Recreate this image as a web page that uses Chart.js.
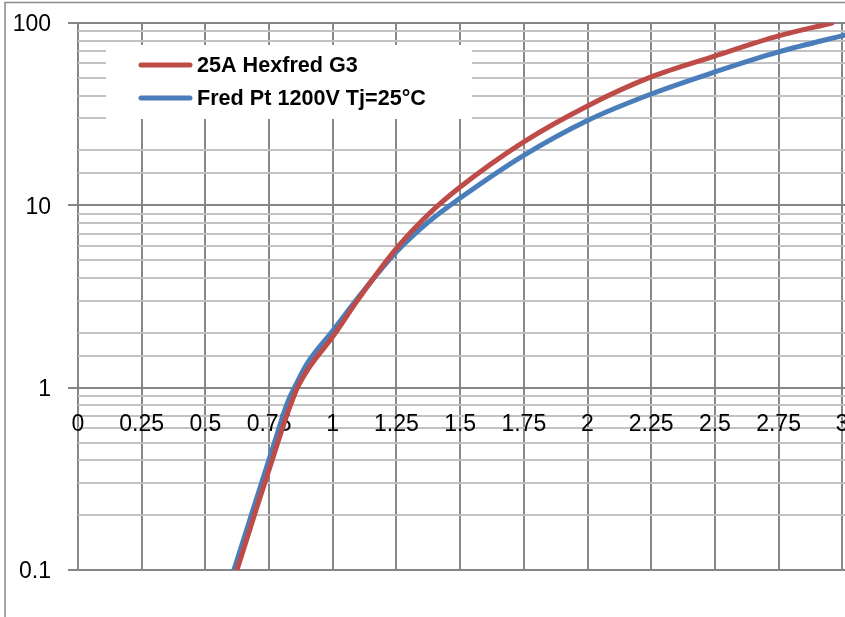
<!DOCTYPE html>
<html>
<head>
<meta charset="utf-8">
<script src="https://cdn.jsdelivr.net/npm/chart.js@4"></script>
<style>
html,body{margin:0;padding:0;overflow:hidden;background:#fff;width:845px;height:617px}
#wrap{width:870px;height:617px}
</style>
</head>
<body>
<div id="wrap"><canvas id="c" width="870" height="617"></canvas></div>
<script>
// ---- data ----
const seriesNames = ['25A Hexfred G3', 'Fred Pt 1200V Tj=25°C'];
const seriesColors = ['#be4b48', '#4a7ebb'];

const hexfredX = [0.624, 0.70, 0.78, 0.82, 0.86, 0.90, 1.00, 1.10, 1.25, 1.375, 1.50, 1.75, 2.00, 2.25, 2.50, 2.75, 2.96];
const hexfredY = [0.1, 0.216, 0.479, 0.708, 0.99, 1.245, 1.905, 3.05, 5.8, 8.9, 12.6, 22.3, 35.1, 50.6, 65.9, 84.9, 100];

const fredX = [0.612, 0.70, 0.78, 0.82, 0.86, 0.90, 1.00, 1.10, 1.25, 1.375, 1.50, 1.75, 2.00, 2.25, 2.50, 2.75, 3.03];
const fredY = [0.1, 0.244, 0.547, 0.813, 1.07, 1.36, 2.05, 3.12, 5.56, 8.1, 10.96, 18.8, 29.2, 40.8, 53.9, 69.4, 87.1];

const xTickLabels = ['0','0.25','0.5','0.75','1','1.25','1.5','1.75','2','2.25','2.5','2.75','3'];
const yTickValues = [0.1, 1, 10, 100];
const yTickLabels = ['0.1', '1', '10', '100'];

// ---- helpers ----
const toPoints = (xs, ys) => xs.map((x, i) => ({x: x, y: ys[i]}));
const isMajor = v => yTickValues.some(t => Math.abs(t - v) / t < 1e-6);
const FONT = 'Liberation Sans, Arial, sans-serif';

const legendPlugin = {
  id: 'innerLegend',
  beforeDatasetsDraw(chart) {
    const ctx = chart.ctx;
    ctx.save();
    ctx.fillStyle = '#ffffff';
    ctx.fillRect(106, 45, 366, 74);
    const rows = [65, 98];
    chart.data.datasets.forEach((ds, i) => {
      const y = rows[i];
      ctx.strokeStyle = ds.borderColor;
      ctx.lineWidth = 5;
      ctx.lineCap = 'round';
      ctx.beginPath();
      ctx.moveTo(141, y);
      ctx.lineTo(190, y);
      ctx.stroke();
      ctx.fillStyle = '#000';
      ctx.font = 'bold 21.6px ' + FONT;
      ctx.textBaseline = 'middle';
      ctx.textAlign = 'left';
      ctx.fillText(ds.label, 197, y + 1);
    });
    ctx.restore();
  }
};

const framePlugin = {
  id: 'frame',
  afterDraw(chart) {
    const ctx = chart.ctx;
    ctx.save();
    ctx.strokeStyle = '#8a8a8a';
    ctx.lineWidth = 1.5;
    ctx.beginPath();
    ctx.moveTo(5, 617);
    ctx.lineTo(5, 2.5);
    ctx.lineTo(870, 2.5);
    ctx.stroke();
    ctx.restore();
  }
};

new Chart(document.getElementById('c'), {
  type: 'line',
  data: {
    datasets: [
      {
        label: seriesNames[0],
        data: toPoints(hexfredX, hexfredY),
        borderColor: seriesColors[0],
        backgroundColor: seriesColors[0],
        borderWidth: 5,
        pointRadius: 0,
        cubicInterpolationMode: 'monotone',
        borderCapStyle: 'round',
        fill: false
      },
      {
        label: seriesNames[1],
        data: toPoints(fredX, fredY),
        borderColor: seriesColors[1],
        backgroundColor: seriesColors[1],
        borderWidth: 5,
        pointRadius: 0,
        cubicInterpolationMode: 'monotone',
        borderCapStyle: 'round',
        fill: false
      }
    ]
  },
  options: {
    responsive: false,
    animation: false,
    devicePixelRatio: 1,
    layout: { padding: { left: 0, top: 23, right: 15, bottom: 47 } },
    plugins: {
      legend: { display: false },
      tooltip: { enabled: false }
    },
    scales: {
      x: {
        type: 'linear',
        position: { y: 1 },
        min: 0,
        max: 3.05,
        afterFit: s => { s.paddingLeft = 0; s.paddingRight = 0; },
        grid: {
          color: '#878787',
          lineWidth: 2,
          drawTicks: false
        },
        border: { display: false },
        ticks: {
          stepSize: 0.25,
          includeBounds: false,
          autoSkip: false,
          maxRotation: 0,
          padding: 23,
          color: '#000',
          font: { family: FONT, size: 23 },
          callback: (v, i) => xTickLabels[i]
        }
      },
      y: {
        type: 'logarithmic',
        position: 'left',
        min: 0.1,
        max: 100,
        afterFit: s => { s.width = 78; s.paddingTop = 0; s.paddingBottom = 0; },
        grid: {
          color: c => isMajor(c.tick.value) ? '#868686' : '#c2c2c2',
          lineWidth: 2,
          tickLength: 10,
          tickColor: c => isMajor(c.tick.value) ? '#868686' : 'rgba(0,0,0,0)',
          tickWidth: 2
        },
        border: { display: false },
        ticks: {
          autoSkip: false,
          padding: 17,
          labelOffset: 2,
          color: '#000',
          font: { family: FONT, size: 23 },
          callback: v => {
            const k = yTickValues.findIndex(t => Math.abs(t - v) / t < 1e-6);
            return k >= 0 ? yTickLabels[k] : '';
          }
        }
      }
    }
  },
  plugins: [legendPlugin, framePlugin]
});
</script>
</body>
</html>
